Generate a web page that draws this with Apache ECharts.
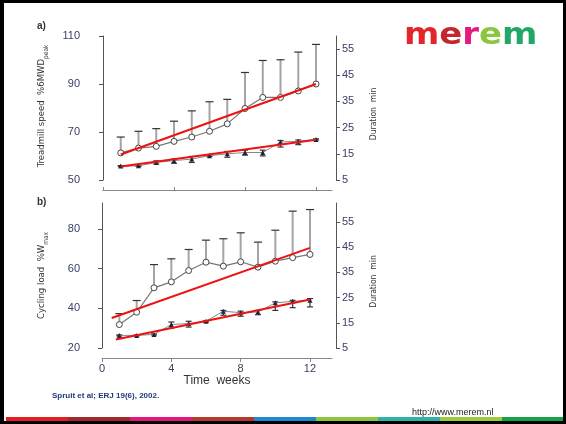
<!DOCTYPE html>
<html>
<head>
<meta charset="utf-8">
<script src="https://cdn.jsdelivr.net/npm/echarts@6/dist/echarts.min.js"></script>
<style>
  html, body { margin: 0; padding: 0; background: #fff; }
  #chart { width: 566px; height: 424px; }
</style>
</head>
<body>
<div id="chart"></div>
<script>
// weeks of training
const weeks = [1, 2, 3, 4, 5, 6, 7, 8, 9, 10, 11, 12];

// panel a: treadmill speed (%6MWDpeak), mean and SD
const speed = [61.3, 63.3, 64.0, 66.1, 67.9, 70.3, 73.4, 79.8, 84.4, 84.4, 87.1, 90.0];
const speedSd = [6.6, 7.0, 7.4, 8.4, 10.9, 12.3, 10.2, 15.0, 15.4, 15.7, 16.2, 16.5];
// panel a: walking duration (min)
const durA = [10.3, 10.4, 11.7, 12.4, 13.0, 14.3, 15.0, 15.5, 15.5, 19.5, 19.8, 20.5];
const durAUp = [0.2, 0.2, 0.6, 0.6, 1.0, 0.3, 0.9, 0.9, 0.9, 0.6, 0.5, 0.2];
const durADown = [0.2, 0.2, 0.6, 1.0, 1.3, 0.3, 1.3, 1.0, 1.3, 1.9, 1.3, 0.2];

// panel b: cycling load (%Wmax), mean and SD
const load = [31.8, 38.0, 50.3, 53.3, 59.0, 63.2, 61.2, 63.4, 60.7, 63.7, 65.5, 67.1];
const loadSd = [5.5, 5.9, 11.7, 11.6, 10.6, 11.1, 13.8, 14.6, 12.6, 15.6, 23.4, 22.6];
// panel b: cycling duration (min)
const durB = [10.0, 10.0, 10.4, 14.3, 14.7, 15.6, 19.6, 19.0, 19.3, 22.9, 23.5, 23.9];
const durBUp = [0.2, 0.2, 0.2, 1.0, 0.9, 0.2, 0.3, 0.6, 0.6, 0.4, 0.4, 0.7];
const durBDown = [0.2, 0.2, 0.2, 1.4, 1.4, 0.3, 1.6, 1.4, 1.1, 3.0, 2.5, 2.6];

// regression lines (start / end week and value)
const fitWeeksA = [1, 12];
const speedFit = [60.6, 90.0];
const durAFit = [10.2, 20.4];
const fitWeeksLoad = [0.56, 12];
const loadFit = [35.1, 70.4];
const fitWeeksDurB = [0.8, 12];
const durBFit = [8.4, 24.2];

// tick labels
const ticksX = [0, 4, 8, 12];
const ticksSpeed = [50, 70, 90, 110];
const ticksLoad = [20, 40, 60, 80];
const ticksDur = [5, 15, 25, 35, 45, 55];

const fontSans = "'Liberation Sans', Arial, sans-serif";
const fontNarrow = "'Liberation Sans Narrow', 'DejaVu Sans Condensed', sans-serif";
const labelColor = '#3a4066';

function pairs(xs, ys) {
    return xs.map(function (x, i) { return [x, ys[i]]; });
}

// upward SD bar: light gray stem, dark cap
function sdUp(params, api) {
    let p0 = api.coord([api.value(0), api.value(1)]);
    let p1 = api.coord([api.value(0), api.value(1) + api.value(2)]);
    return {
        type: 'group',
        children: [
            { type: 'line', shape: { x1: p0[0], y1: p0[1], x2: p1[0], y2: p1[1] },
              style: { stroke: '#a4a4a4', lineWidth: 2 } },
            { type: 'line', shape: { x1: p1[0] - 4, y1: p1[1], x2: p1[0] + 4, y2: p1[1] },
              style: { stroke: '#333', lineWidth: 1.2 } }
        ]
    };
}

// two sided error bar
function sdBoth(params, api) {
    let x = api.value(0), m = api.value(1);
    let p0 = api.coord([x, m - api.value(2)]);
    let p1 = api.coord([x, m + api.value(3)]);
    return {
        type: 'group',
        children: [
            { type: 'line', shape: { x1: p0[0], y1: p0[1], x2: p1[0], y2: p1[1] },
              style: { stroke: '#333', lineWidth: 1.2 } },
            { type: 'line', shape: { x1: p0[0] - 3, y1: p0[1], x2: p0[0] + 3, y2: p0[1] },
              style: { stroke: '#333', lineWidth: 1.2 } },
            { type: 'line', shape: { x1: p1[0] - 3, y1: p1[1], x2: p1[0] + 3, y2: p1[1] },
              style: { stroke: '#333', lineWidth: 1.2 } }
        ]
    };
}

function yAxisDef(grid, position, offset, min, max, ticks, name, sub, nameGap, nameSize, labelMargin, namePad) {
    return {
        type: 'value', gridIndex: grid, position: position, offset: offset,
        min: min, max: max,
        axisLine: { show: true, lineStyle: { color: '#555', width: 1 } },
        axisTick: { show: true, length: 4, customValues: ticks, lineStyle: { color: '#555' } },
        axisLabel: { customValues: ticks, color: labelColor, fontSize: 11, fontFamily: fontSans, margin: labelMargin },
        splitLine: { show: false },
        name: sub ? '{m|' + name + '}{s|' + sub + '}' : '{m|' + name + '}',
        nameLocation: 'middle',
        nameGap: nameGap,
        nameTextStyle: {
            padding: namePad,
            rich: {
                m: { fontSize: nameSize, fontFamily: fontNarrow, color: '#333', lineHeight: 13, verticalAlign: 'top' },
                s: { fontSize: 6.5, fontFamily: fontNarrow, color: '#333', lineHeight: 8, verticalAlign: 'bottom' }
            }
        }
    };
}

const stripeColors = ['#e31e24', '#a3282b', '#e6177c', '#b5382d', '#1e88d0',
                      '#8dc63f', '#2eb3a6', '#9ec93c', '#16a04a'];

let graphics = [];
stripeColors.forEach(function (c, i) {
    graphics.push({ type: 'rect', shape: { x: 6 + i * 62, y: 417, width: 62, height: 4 }, style: { fill: c } });
});
graphics.push(
    { type: 'rect', shape: { x: 0, y: 0, width: 4, height: 424 }, style: { fill: '#000' } },
    { type: 'rect', shape: { x: 0, y: 0, width: 566, height: 3 }, style: { fill: '#000' } },
    { type: 'rect', shape: { x: 563, y: 0, width: 3, height: 424 }, style: { fill: '#000' } },
    { type: 'rect', shape: { x: 0, y: 421, width: 566, height: 3 }, style: { fill: '#000' } },
    { type: 'text', x: 37, y: 26, style: { text: 'a)', font: 'bold 10px ' + fontSans, fill: '#333', verticalAlign: 'middle' } },
    { type: 'text', x: 37, y: 202, style: { text: 'b)', font: 'bold 10px ' + fontSans, fill: '#333', verticalAlign: 'middle' } },
    { type: 'text', x: 52, y: 396, style: { text: 'Spruit et al; ERJ 19(6), 2002.', font: 'bold 8px ' + fontSans, fill: '#1f3a78', verticalAlign: 'middle' } },
    { type: 'text', x: 412, y: 413, style: { text: 'http://www.merem.nl', font: '9px ' + fontSans, fill: '#222', verticalAlign: 'middle' } },
    {
        type: 'text', x: 404, y: 36, scaleX: 1.13,
        style: {
            text: '{a|m}{b|e}{c|r}{d|e}{e|m}',
            font: 'bold 30px DejaVu Sans',
            verticalAlign: 'middle',
            rich: {
                a: { fill: '#e4262b', font: 'bold 30px DejaVu Sans' },
                b: { fill: '#c1272d', font: 'bold 30px DejaVu Sans' },
                c: { fill: '#e5197e', font: 'bold 30px DejaVu Sans' },
                d: { fill: '#8cc63e', font: 'bold 30px DejaVu Sans' },
                e: { fill: '#22a66a', font: 'bold 30px DejaVu Sans' }
            }
        }
    }
);

var myChart = echarts.init(document.getElementById('chart'));

var option = {
    animation: false,
    backgroundColor: '#fff',
    textStyle: { fontFamily: fontSans },
    grid: [
        { left: 103, top: 36, width: 229, height: 144 },
        { left: 102, top: 203, width: 230, height: 145 }
    ],
    xAxis: [
        {
            type: 'value', gridIndex: 0, min: 0, max: 12.9, offset: 10,
            axisLine: { show: true, lineStyle: { color: '#888' } },
            axisTick: { show: true, inside: true, length: 3, customValues: ticksX, lineStyle: { color: '#888' } },
            axisLabel: { show: false },
            splitLine: { show: false }
        },
        {
            type: 'value', gridIndex: 1, min: 0, max: 13.27, offset: 10,
            axisLine: { show: true, lineStyle: { color: '#888' } },
            axisTick: { show: true, length: 4, customValues: ticksX, lineStyle: { color: '#888' } },
            axisLabel: { customValues: ticksX, color: labelColor, fontSize: 11, margin: 5 },
            splitLine: { show: false },
            name: 'Time  weeks', nameLocation: 'middle', nameGap: 15,
            nameTextStyle: { fontSize: 12, color: '#333' }
        }
    ],
    yAxis: [
        yAxisDef(0, 'left', 15, 50, 110, ticksSpeed, 'Treadmill speed  %6MWD', 'peak', 38, 9.5, 8, [0, 0, 0, 4]),
        yAxisDef(0, 'right', 4, 5, 60, ticksDur, 'Duration  min', null, 33, 8.5, 6, [0, 12, 0, 0]),
        yAxisDef(1, 'left', 14, 20, 93, ticksLoad, 'Cycling load  %W', 'max', 38, 9.5, 8, [0, 0, 0, 0]),
        yAxisDef(1, 'right', 4, 5, 62.5, ticksDur, 'Duration  min', null, 33, 8.5, 6, [0, 12, 0, 0])
    ],
    series: [
        // panel a
        { type: 'custom', xAxisIndex: 0, yAxisIndex: 0, renderItem: sdUp, z: 2,
          encode: { x: 0, y: 1 },
          data: weeks.map(function (w, i) { return [w, speed[i], speedSd[i]]; }) },
        { type: 'line', xAxisIndex: 0, yAxisIndex: 0, z: 3, data: pairs(weeks, speed),
          symbol: 'circle', symbolSize: 6,
          itemStyle: { color: '#fff', borderColor: '#444', borderWidth: 1 },
          lineStyle: { color: '#777', width: 1.2 } },
        { type: 'line', xAxisIndex: 0, yAxisIndex: 0, z: 4, data: pairs(fitWeeksA, speedFit),
          showSymbol: false, lineStyle: { color: '#ee1111', width: 2 } },
        { type: 'custom', xAxisIndex: 0, yAxisIndex: 1, renderItem: sdBoth, z: 2,
          encode: { x: 0, y: 1 },
          data: weeks.map(function (w, i) { return [w, durA[i], durADown[i], durAUp[i]]; }) },
        { type: 'line', xAxisIndex: 0, yAxisIndex: 1, z: 3, data: pairs(weeks, durA),
          symbol: 'triangle', symbolSize: 5,
          itemStyle: { color: '#1d2540' },
          lineStyle: { color: '#888', width: 1 } },
        { type: 'line', xAxisIndex: 0, yAxisIndex: 1, z: 4, data: pairs(fitWeeksA, durAFit),
          showSymbol: false, lineStyle: { color: '#ee1111', width: 2 } },
        // panel b
        { type: 'custom', xAxisIndex: 1, yAxisIndex: 2, renderItem: sdUp, z: 2,
          encode: { x: 0, y: 1 },
          data: weeks.map(function (w, i) { return [w, load[i], loadSd[i]]; }) },
        { type: 'line', xAxisIndex: 1, yAxisIndex: 2, z: 3, data: pairs(weeks, load),
          symbol: 'circle', symbolSize: 6,
          itemStyle: { color: '#fff', borderColor: '#444', borderWidth: 1 },
          lineStyle: { color: '#777', width: 1.2 } },
        { type: 'line', xAxisIndex: 1, yAxisIndex: 2, z: 4, data: pairs(fitWeeksLoad, loadFit),
          showSymbol: false, lineStyle: { color: '#ee1111', width: 2 } },
        { type: 'custom', xAxisIndex: 1, yAxisIndex: 3, renderItem: sdBoth, z: 2,
          encode: { x: 0, y: 1 },
          data: weeks.map(function (w, i) { return [w, durB[i], durBDown[i], durBUp[i]]; }) },
        { type: 'line', xAxisIndex: 1, yAxisIndex: 3, z: 3, data: pairs(weeks, durB),
          symbol: 'triangle', symbolSize: 5,
          itemStyle: { color: '#1d2540' },
          lineStyle: { color: '#888', width: 1 } },
        { type: 'line', xAxisIndex: 1, yAxisIndex: 3, z: 4, data: pairs(fitWeeksDurB, durBFit),
          showSymbol: false, lineStyle: { color: '#ee1111', width: 2 } }
    ],
    graphic: graphics
};

myChart.setOption(option);
</script>
</body>
</html>
